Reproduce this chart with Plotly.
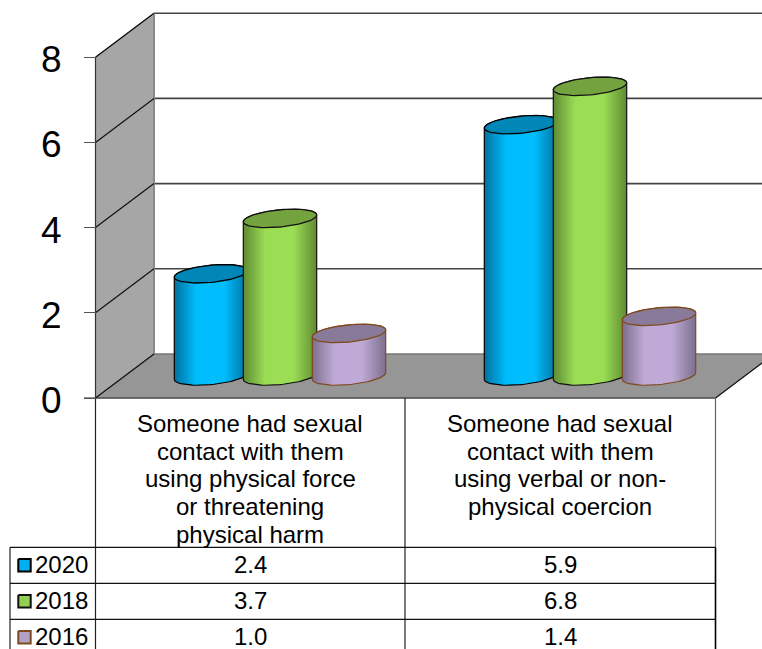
import numpy as np
import plotly.graph_objects as go

# ---- data ----
categories = [
    ["Someone had sexual", "contact with them", "using physical force", "or threatening", "physical harm"],
    ["Someone had sexual", "contact with them", "using verbal or non-", "physical coercion"],
]
years = ["2020", "2018", "2016"]
values_2020 = [2.4, 5.9]
values_2018 = [3.7, 6.8]
values_2016 = [1.0, 1.4]
y_ticks = [0, 2, 4, 6, 8]

# ---- styles ----
W, H = 762, 649
PX = 42.6            # pixels per value unit
Y0 = 398             # pixel row of value 0 on the front plane
X0 = 95.5            # front-left corner
XR = 715.5           # front-right corner
XM = 405             # table column divider
DX, DV = 58.5, 44 / PX  # depth offset
FONT = "Liberation Sans, Arial, sans-serif"
series = [
    dict(vals=values_2020, dark="#00709E", light="#00BDFD", top="#0087B8", line="#000000", swatch="#00B0F0"),
    dict(vals=values_2018, dark="#5F8A32", light="#9BDE55", top="#74A23F", line="#111111", swatch="#92D050"),
    dict(vals=values_2016, dark="#7C6F8C", light="#BFA9D6", top="#887A98", line="#7F4A1E", swatch="#B3A2C7"),
]
GROUP0, GROUP_STEP, BAR_STEP = 280, 310, 69
RX, RY, TILT = 36.7, 8.6, 3.4
BASE_V = 22 / PX


def py(px):
    return (Y0 - px) / PX


fig = go.Figure()


def poly(xs, ys, fill, line=None, width=1):
    fig.add_trace(go.Scatter(x=xs, y=ys, mode="lines", fill="toself", fillcolor=fill,
                             line=dict(color=line or fill, width=width), hoverinfo="skip"))


def seg(xs, ys, color="#000000", width=1):
    fig.add_trace(go.Scatter(x=xs, y=ys, mode="lines", line=dict(color=color, width=width), hoverinfo="skip"))


# back wall grid
for t in y_ticks[1:]:
    seg([X0 + DX, W], [t + DV, t + DV], "#444444", 1.6)
# left wall
top = y_ticks[-1]
poly([X0, X0 + DX, X0 + DX, X0, X0], [0, DV, top + DV, top, 0], "#A6A6A6", "#333333", 1)
seg([X0 + DX, X0 + DX], [DV, top + DV], "#8A8A8A", 2)
for t in y_ticks[1:]:
    seg([X0, X0 + DX], [t, t + DV], "#111111", 1.2)
# floor
xfar = XR + DX
poly([X0, X0 + DX, xfar, XR, X0], [0, DV, DV, 0, 0], "#969696")
seg([X0 + DX, W], [DV, DV], "#666666", 1)
seg([X0, X0 + DX], [0, DV], "#111111", 1.2)
seg([XR, xfar], [0, DV], "#111111", 1.2)
seg([84, XR], [0, 0], "#222222", 1.2)
# axis line
seg([X0, X0], [0, top], "#333333", 1.2)

# cylinders
th = np.linspace(0, 2 * np.pi, 73)
for g in range(len(categories)):
    for j, s in enumerate(series):
        cx = GROUP0 + g * GROUP_STEP + (j - 1) * BAR_STEP
        v = s["vals"][g]
        lo = np.linspace(0, np.pi, 37)
        hi = np.linspace(np.pi, 2 * np.pi, 37)
        bx = cx + RX * np.cos(lo)
        by = BASE_V + (-RY * np.sin(lo) + TILT * np.cos(lo)) / PX
        tx = cx + RX * np.cos(hi)
        ty = BASE_V + v + (-RY * np.sin(hi) + TILT * np.cos(hi)) / PX
        xs = np.r_[bx, tx, bx[0]]
        ys = np.r_[by, ty, by[0]]
        fig.add_trace(go.Scatter(
            x=xs, y=ys, mode="lines", fill="toself",
            fillgradient=dict(type="horizontal", colorscale=[
                [0, s["dark"]], [0.3, s["light"]], [0.68, s["light"]], [1, s["dark"]]]),
            line=dict(color=s["line"], width=1.2), hoverinfo="skip"))
        ex = cx + RX * np.cos(th)
        ey = BASE_V + v + (-RY * np.sin(th) + TILT * np.cos(th)) / PX
        poly(ex, ey, s["top"], s["line"], 1.3)

# data table rules
ROW_TOP, ROW_H = 547.3, 36
BOTTOM = 660
XL = 10
seg([X0, X0], [0, py(BOTTOM)], "#222222", 1.2)
seg([XM, XM], [0, py(BOTTOM)], "#222222", 1.2)
seg([XR, XR], [0, py(ROW_TOP)], "#666666", 1.2)
seg([XR, XR], [py(ROW_TOP), py(BOTTOM)], "#000000", 1.6)
seg([XL, XL], [py(ROW_TOP), py(BOTTOM)], "#222222", 1.2)
for r in range(3):
    seg([XL, XR], [py(ROW_TOP + r * ROW_H)] * 2, "#111111", 1.2)

ann = []


def label(x, y, text, size=24, xanchor="center"):
    ann.append(dict(x=x, y=py(y), text=text, showarrow=False, xref="x", yref="y",
                    xanchor=xanchor, yanchor="middle", font=dict(family=FONT, size=size, color="#000000")))


centers = [(X0 + XM) / 2 + 0.2, (XM + XR) / 2]
for c, lines in zip(centers, categories):
    for i, text in enumerate(lines):
        label(c, 423.2 + i * 27.8, text)
for r, (yr, s) in enumerate(zip(years, series)):
    yc = ROW_TOP + ROW_H * (r + 0.5)
    label(33, yc - 0.8, yr, xanchor="left")
    for c, v in zip(centers, s["vals"]):
        label(c, yc - 0.8, f"{v:.1f}")
    hw = 6.2
    poly([24.5 - hw, 24.5 + hw, 24.5 + hw, 24.5 - hw, 24.5 - hw],
         [py(yc - hw), py(yc - hw), py(yc + hw), py(yc + hw), py(yc - hw)],
         s["swatch"], s["line"], 2)

fig.update_layout(
    width=W, height=H, margin=dict(l=0, r=0, t=0, b=0),
    paper_bgcolor="white", plot_bgcolor="white", showlegend=False, hovermode=False,
    annotations=ann,
    xaxis=dict(range=[0, W], visible=False, fixedrange=True),
    yaxis=dict(range=[py(H), py(0)], anchor="free", position=X0 / W, side="left",
               tickvals=y_ticks, ticktext=[str(t) for t in y_ticks], ticks="outside", ticklen=11.5,
               tickcolor="#555555", tickwidth=1.2, showgrid=False, zeroline=False, showline=False,
               ticklabelstandoff=15, ticklabelshift=2, fixedrange=True,
               tickfont=dict(family=FONT, size=37, color="#000000")),
)
fig.write_html("out.html", config=dict(displayModeBar=False),
               post_script="document.body.style.margin='0';document.body.style.overflow='hidden';")
